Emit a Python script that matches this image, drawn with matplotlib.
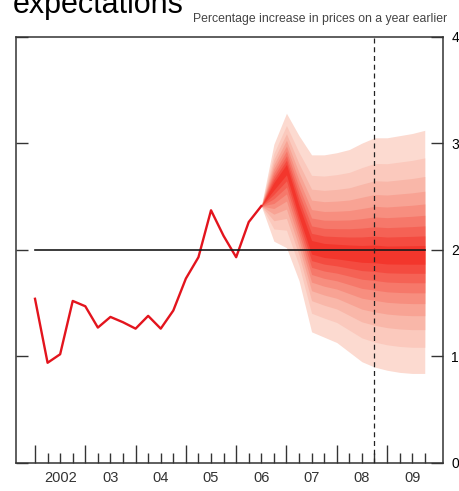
import matplotlib
matplotlib.use("Agg")
import matplotlib.pyplot as plt
from matplotlib import font_manager
from matplotlib.ticker import FixedLocator, NullFormatter
import matplotlib.transforms as mtransforms
import numpy as np

# ---------------- data ----------------
hist_t = [2002.0, 2002.25, 2002.5, 2002.75, 2003.0, 2003.25, 2003.5, 2003.75,
          2004.0, 2004.25, 2004.5, 2004.75, 2005.0, 2005.25, 2005.5, 2005.75,
          2006.0, 2006.25, 2006.5]
hist_cpi = [1.54, 0.94, 1.02, 1.52, 1.47, 1.27, 1.37, 1.32, 1.26, 1.38, 1.26,
            1.43, 1.73, 1.93, 2.37, 2.13, 1.93, 2.26, 2.41]

fan_t = [2006.5, 2006.75, 2007.0, 2007.25, 2007.5, 2007.75, 2008.0, 2008.25,
         2008.5, 2008.75, 2009.0, 2009.25, 2009.5, 2009.75]
fan_mode = [2.41, 2.60, 2.76, 2.36, 2.02, 1.99, 1.98, 1.97, 1.96, 1.96, 1.95,
            1.95, 1.95, 1.95]
fan_upper = [2.41, 2.99, 3.28, 3.07, 2.89, 2.89, 2.91, 2.94, 3.00, 3.05, 3.05,
             3.07, 3.09, 3.12]
fan_lower = [2.41, 2.08, 2.02, 1.71, 1.23, 1.18, 1.13, 1.04, 0.95, 0.90, 0.87,
             0.85, 0.84, 0.84]

# fraction of the 90% half-width reached by each band boundary (10%..90%)
band_frac = [0.077, 0.154, 0.234, 0.319, 0.410, 0.512, 0.630, 0.779, 1.0]
band_colors = ['#f3362c', '#f44b40', '#f56255', '#f6786a', '#f78e7f',
               '#f8a394', '#f9b7a9', '#fbc9bd', '#fcdad0']

target = 2.0
target_span = [2002.0, 2009.75]
horizon = 2008.75

year_ticks = [2002, 2003, 2004, 2005, 2006, 2007, 2008, 2009]
year_labels = ['2002', '03', '04', '05', '06', '07', '08', '09']
y_ticks = [0, 1, 2, 3, 4]

title = 'expectations'
subtitle = 'Percentage increase in prices on a year earlier'

# ---------------- fonts ----------------
def have(name):
    try:
        font_manager.findfont(name, fallback_to_default=False)
        return True
    except Exception:
        return False

regular = 'Liberation Sans' if have('Liberation Sans') else 'DejaVu Sans'

# ---------------- figure ----------------
W, H = 460, 491
fig = plt.figure(figsize=(W / 100, H / 100), dpi=100)
renderer = fig.canvas.get_renderer()

ax = fig.add_axes([16 / W, 1 - 463 / H, (443 - 16) / W, (463 - 36.5) / H])
ax.set_xlim(2001.622, 2010.113)
ax.set_ylim(0, 4)

# fan (outer to inner)
ft = np.array(fan_t)
fm = np.array(fan_mode)
fu = np.array(fan_upper)
fl = np.array(fan_lower)
for frac, col in reversed(list(zip(band_frac, band_colors))):
    up = fm + (fu - fm) * frac
    lo = fm - (fm - fl) * frac
    ax.fill_between(ft, lo, up, color=col, linewidth=0, zorder=1)

# history line
ax.plot(hist_t, hist_cpi, color='#e3141d', lw=1.7, zorder=3)

# target line
ax.plot(target_span, [target, target], color='#1a1a1a', lw=1.2, zorder=4)

# horizon dashed line
ax.axvline(horizon, color='#222222', lw=0.9, ls=(0, (4, 3)), zorder=4)

# spines
for s in ax.spines.values():
    s.set_color('#333333')
    s.set_linewidth(1.1)

# y ticks
ax.yaxis.set_major_locator(FixedLocator(y_ticks))
ax.tick_params(axis='y', which='major', direction='in', length=8.5, width=1.0,
               color='#333333', left=True, right=True, labelleft=False,
               labelright=True, labelsize=10, pad=6)
for lab in ax.get_yticklabels():
    lab.set_family(regular)

# x ticks
minor = [y + q for y in year_ticks for q in (0.25, 0.5, 0.75)]
ax.xaxis.set_major_locator(FixedLocator(year_ticks))
ax.xaxis.set_minor_locator(FixedLocator(minor))
ax.xaxis.set_major_formatter(NullFormatter())
ax.tick_params(axis='x', which='major', direction='in', length=13, width=1.0,
               color='#333333', top=False)
ax.tick_params(axis='x', which='minor', direction='in', length=7.2, width=1.0,
               color='#333333', top=False)

trans = mtransforms.blended_transform_factory(ax.transData, fig.transFigure)
for yr, lab in zip(year_ticks, year_labels):
    ax.text(yr + 0.5, 1 - 478 / H, lab, transform=trans, ha='center',
            va='center', family=regular, fontsize=10.5, color='#333333')

fig.text(13 / W, 1 - 13 / H, title, fontsize=22, family=regular, va='baseline',
         ha='left', color='black')
st = fig.text(193 / W, 1 - 21.7 / H, subtitle, family=regular,
              fontsize=9, va='baseline', ha='left', color='#444444')
w = st.get_window_extent(renderer).width
st.set_fontsize(st.get_fontsize() * 254.0 / w)

fig.savefig('out.png', dpi=100)
